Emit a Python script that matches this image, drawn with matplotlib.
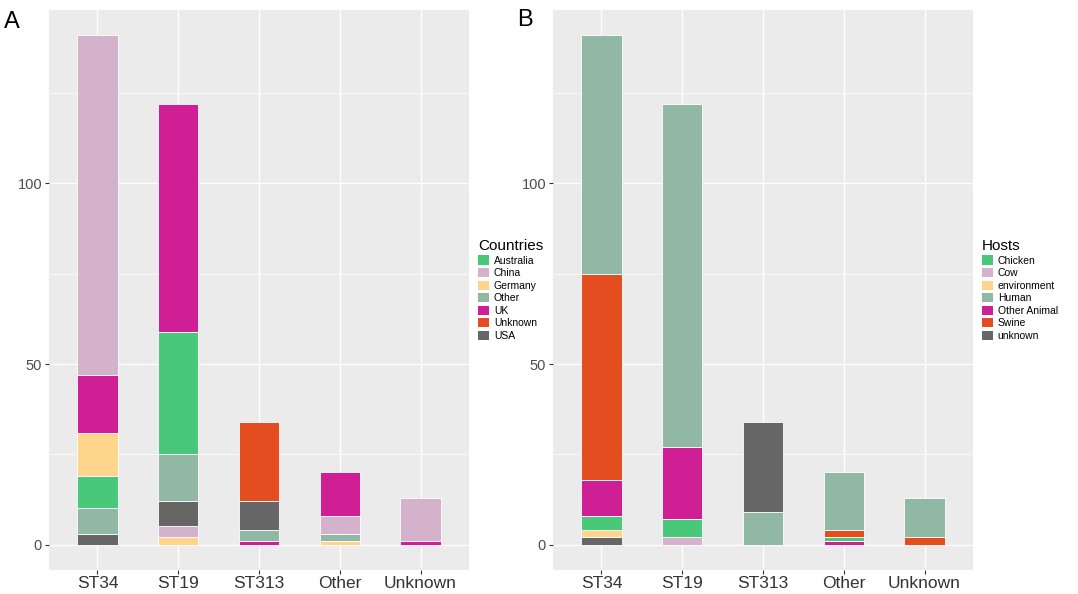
import numpy as np
import matplotlib
matplotlib.use('Agg')
import matplotlib.pyplot as plt
from matplotlib.patches import Patch

plt.rcParams['font.family'] = ['Liberation Sans', 'DejaVu Sans']

st_types = ['ST34', 'ST19', 'ST313', 'Other', 'Unknown']

# panel A: countries, listed bottom -> top for each ST
countries = ['Australia', 'China', 'Germany', 'Other', 'UK', 'Unknown', 'USA']
country_stack = [
    ['USA', 'Other', 'Australia', 'Germany', 'UK', 'China'],
    ['Germany', 'China', 'USA', 'Other', 'Australia', 'UK'],
    ['UK', 'Other', 'USA', 'Unknown'],
    ['Germany', 'Other', 'China', 'UK'],
    ['UK', 'China'],
]
country_counts = [
    [3, 7, 9, 12, 16, 94],
    [2, 3, 7, 13, 34, 63],
    [1, 3, 8, 22],
    [1, 2, 5, 12],
    [1, 12],
]

# panel B: hosts
hosts = ['Chicken', 'Cow', 'environment', 'Human', 'Other Animal', 'Swine', 'unknown']
host_stack = [
    ['unknown', 'environment', 'Chicken', 'Other Animal', 'Swine', 'Human'],
    ['Cow', 'Chicken', 'Other Animal', 'Human'],
    ['Human', 'unknown'],
    ['Other Animal', 'Chicken', 'Swine', 'Human'],
    ['Swine', 'Human'],
]
host_counts = [
    [2, 2, 4, 10, 57, 66],
    [2, 5, 20, 95],
    [9, 25],
    [1, 1, 2, 16],
    [2, 11],
]

palette = ['#48C878', '#D4B2CB', '#FFD58D', '#91B8A4', '#D01F95', '#E44D20', '#666666']


def panel(ax, stacks, counts, levels, title):
    cols = dict(zip(levels, palette))
    x = np.arange(len(st_types))
    for i in range(len(st_types)):
        bottom = 0
        for name, n in zip(stacks[i], counts[i]):
            ax.bar(x[i], n, 0.5, bottom=bottom, color=cols[name],
                   edgecolor='white', linewidth=0.6, zorder=3)
            bottom += n
    ax.set_facecolor('#EBEBEB')
    ax.set_xlim(-0.6, len(st_types) - 0.4)
    ax.set_ylim(-7.05, 148.05)
    ax.set_xticks(x)
    ax.set_xticklabels(st_types, fontsize=12.5, color='#333333')
    ax.set_yticks([0, 50, 100])
    ax.set_yticks([25, 75, 125], minor=True)
    ax.tick_params(axis='y', labelsize=10.5, labelcolor='#4D4D4D', color='#333333',
                   length=3, pad=2)
    ax.tick_params(axis='x', color='#333333', length=3, pad=1.5)
    ax.tick_params(axis='y', which='minor', length=0)
    ax.grid(True, which='major', color='white', linewidth=1.0, zorder=0)
    ax.grid(True, which='minor', axis='y', color='white', linewidth=0.5, zorder=0)
    ax.set_axisbelow(True)
    for s in ax.spines.values():
        s.set_visible(False)
    handles = [Patch(facecolor=cols[l], edgecolor='none', label=l) for l in levels]
    leg = ax.legend(handles=handles, title=title, loc='center left',
                    bbox_to_anchor=(1.012, 0.5), frameon=False, fontsize=7.5,
                    title_fontsize=11, handlelength=1.0, handleheight=1.0,
                    handletextpad=0.5, labelspacing=0.22, borderaxespad=0)
    leg._legend_box.align = 'left'


fig = plt.figure(figsize=(10.78, 5.94), dpi=100)
axA = fig.add_axes([49 / 1078, 1 - 570 / 594, 420 / 1078, 560 / 594])
axB = fig.add_axes([553 / 1078, 1 - 570 / 594, 420 / 1078, 560 / 594])

panel(axA, country_stack, country_counts, countries, 'Countries')
panel(axB, host_stack, host_counts, hosts, 'Hosts')

fig.text(4 / 1078, 1 - 28 / 594, 'A', fontsize=17)
fig.text(517 / 1078, 1 - 26 / 594, 'B', fontsize=17)

fig.savefig('out.png', dpi=100)
